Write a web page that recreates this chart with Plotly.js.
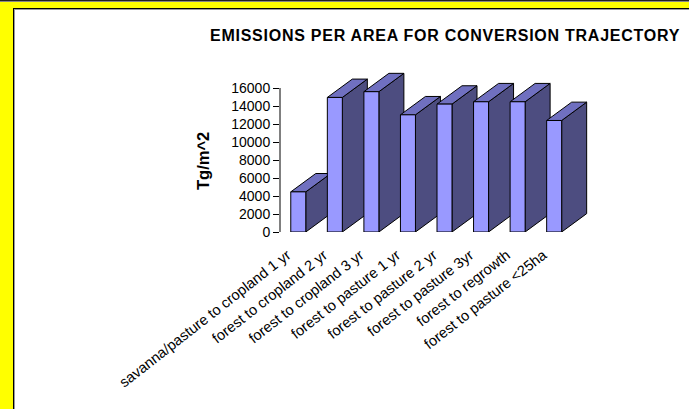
<!DOCTYPE html>
<html>
<head>
<meta charset="utf-8">
<script src="https://cdn.plot.ly/plotly-3.0.1.min.js"></script>
<style>
  html, body { margin: 0; padding: 0; width: 689px; height: 409px; overflow: hidden; background: #ffff00; }
  #band { position: absolute; left: 0; top: 0; width: 689px; height: 1px; background: #222; border-bottom: 1px solid #888; }
  #panel { position: absolute; left: 13px; top: 8px; right: 0; bottom: 0; box-sizing: border-box; background: #fff;
           border-left: 1px solid #000; border-top: 1px solid #000; box-shadow: inset 1px 1px 0 #999; }
  #chart { position: absolute; left: 0; top: 0; width: 689px; height: 409px; }
  #chart .gtitle { letter-spacing: 0.75px; }
</style>
</head>
<body>
<div id="band"></div>
<div id="panel"></div>
<div id="chart"></div>
<script>
// Emissions per area by land-conversion trajectory
const categories = [
  'savanna/pasture to cropland 1 yr',
  'forest to cropland 2 yr',
  'forest to cropland 3 yr',
  'forest to pasture 1 yr',
  'forest to pasture 2 yr',
  'forest to pasture 3yr',
  'forest to regrowth',
  'forest to pasture <25ha'
];
const emissions = [4460, 14950, 15590, 13020, 14210, 14470, 14470, 12390];
const yTicks = [0, 2000, 4000, 6000, 8000, 10000, 12000, 14000, 16000];

// Extruded-bar geometry, in axis units
const halfWidth = 0.205;
const depthX = 0.684;
const depthY = 2040;

const FRONT = '#9999ff', TOP = '#7070c0', SIDE = '#4d4d80';

function face(xs, ys, color) {
  return {
    type: 'scatter', mode: 'lines', x: xs, y: ys, fill: 'toself', fillcolor: color,
    line: { color: '#000', width: 1 }, cliponaxis: false, hoverinfo: 'skip', showlegend: false
  };
}

// Painted left to right so each bar covers the side of the one before it
const traces = [];
categories.forEach((name, i) => {
  const l = i - halfWidth, r = i + halfWidth, v = emissions[i];
  traces.push(face([r, r + depthX, r + depthX, r, r], [0, depthY, v + depthY, v, 0], SIDE));
  traces.push(face([l, r, r + depthX, l + depthX, l], [v, v, v + depthY, v + depthY, v], TOP));
  traces.push(face([l, r, r, l, l], [0, 0, v, v, 0], FRONT));
});

const W = 689, H = 409;
const layout = {
  width: W, height: H,
  paper_bgcolor: 'rgba(0,0,0,0)', plot_bgcolor: 'rgba(0,0,0,0)',
  // Axis ranges run past the last tick and bar to leave room for the extrusion
  margin: { l: 280, r: 80, t: 70.4, b: 177.3, pad: 0 },
  showlegend: false,
  font: { family: 'Liberation Sans, Arial, sans-serif', color: '#000' },
  title: {
    text: '<b>EMISSIONS PER AREA FOR CONVERSION TRAJECTORY</b>',
    font: { size: 16, color: '#000' },
    x: 210 / W, xanchor: 'left', xref: 'container',
    y: 1 - 35 / H, yanchor: 'middle', yref: 'container'
  },
  xaxis: {
    range: [-0.5, 8.5], showgrid: false, zeroline: false, showline: false,
    tickmode: 'array', tickvals: categories.map((_, i) => i), ticktext: categories,
    tickangle: -38, ticks: '', tickfont: { size: 14.6, color: '#000' }, automargin: false,
    ticklabelshift: -11, ticklabelstandoff: 11
  },
  yaxis: {
    range: [0, 18000], showgrid: false, zeroline: false, showline: false,
    tickmode: 'array', tickvals: yTicks, ticktext: yTicks.map(String),
    ticks: 'outside', ticklen: 6, tickcolor: '#000', tickwidth: 1,
    tickfont: { size: 14, color: '#000' }, automargin: false
  },
  // The value axis line stops at its top tick
  shapes: [{
    type: 'line', xref: 'paper', yref: 'y', x0: 0, x1: 0, y0: 0, y1: yTicks[yTicks.length - 1],
    line: { color: '#000', width: 1 }, layer: 'above'
  }],
  annotations: [{
    text: '<b>Tg/m^2</b>', font: { size: 16.5, color: '#000' }, textangle: -90, showarrow: false,
    xref: 'paper', x: 0, xanchor: 'center', xshift: -77,
    yref: 'y', y: 7890, yanchor: 'middle'
  }]
};

Plotly.newPlot('chart', traces, layout, { displayModeBar: false, staticPlot: true });
</script>
</body>
</html>
